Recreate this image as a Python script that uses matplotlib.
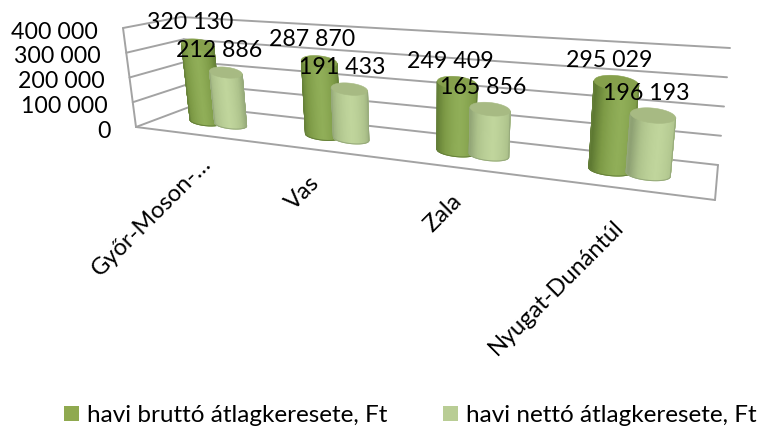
import numpy as np
import matplotlib
matplotlib.use("Agg")
import matplotlib.pyplot as plt
from matplotlib.patches import Patch, Polygon
from matplotlib.colors import LinearSegmentedColormap

categories = ["Győr-Moson-…", "Vas", "Zala", "Nyugat-Dunántúl"]
brutto = [320130, 287870, 249409, 295029]
netto = [212886, 191433, 165856, 196193]
series_names = ["havi bruttó átlagkeresete, Ft", "havi nettó átlagkeresete, Ft"]
y_ticks = [0, 100000, 200000, 300000, 400000]
y_max = 400000

plt.rcParams['font.family'] = ['Lato', 'DejaVu Sans']
W, H = 765, 428
fig = plt.figure(figsize=(W / 100, H / 100), dpi=100)
ax = fig.add_axes([0, 0, 1, 1])
ax.set_xlim(0, W)
ax.set_ylim(H, 0)
ax.axis('off')

# 3D box projected to the screen
FL0, FR0, BL0, BR0 = map(np.array, [(136, 127), (715, 200), (192, 106), (718, 165)])
FL1, FR1, BL1, BR1 = map(np.array, [(123, 28), (729, 70), (181, 17), (730, 48)])
K = 1.32


def project(u, d, v):
    t = u / (u + K * (1 - u))
    h = v / y_max
    floor = (1 - d) * ((1 - t) * FL0 + t * FR0) + d * ((1 - t) * BL0 + t * BR0)
    top = (1 - d) * ((1 - t) * FL1 + t * FR1) + d * ((1 - t) * BL1 + t * BR1)
    return (1 - h) * floor + h * top


GRID = dict(color='#a3a3a3', lw=1.4, solid_capstyle='round', zorder=1)
for tick in y_ticks:
    a, b, c = project(0, 0, tick), project(0, 1, tick), project(1, 1, tick)
    ax.plot([a[0], b[0]], [a[1], b[1]], **GRID)
    ax.plot([b[0], c[0]], [b[1], c[1]], **GRID)
    ax.text(a[0] - 25, a[1] + 4, f"{tick:,}".replace(",", " "), ha='right', va='center',
            fontsize=16.7, color='black', zorder=10)
for p, q in [((0, 0, 0), (1, 0, 0)), ((0, 0, 0), (0, 0, y_max)), ((1, 0, 0), (1, 1, 0))]:
    a, b = project(*p), project(*q)
    ax.plot([a[0], b[0]], [a[1], b[1]], **GRID)

CMAP_A = LinearSegmentedColormap.from_list('a', ['#5f7a33', '#7d9a46', '#90ae58'])
CMAP_B = LinearSegmentedColormap.from_list('b', ['#8fa274', '#aec38c', '#c0d59c'])
TOP_COLORS = ['#86a04c', '#a7ba83']
EDGE_COLORS = ['#66803a', '#96a97b']
R_U = 0.036
SLOPE = 0.10
RY_BOTTOM = 0.27
RY_TOP = 0.33
OFFSET_U = 0.028
LABEL_OFFSETS = [(15, 26), (-1, 30), (-1, 30), (-3, 35)]


def cylinder(u, value, cmap, top_color, edge_color):
    bl, br = project(u - R_U, .5, 0), project(u + R_U, .5, 0)
    tl, tr = project(u - R_U, .5, value), project(u + R_U, .5, value)
    bc, tc = (bl + br) / 2, (tl + tr) / 2
    shrink = 1 - 0.12 * (bc[0] - FL0[0]) / (FR0[0] - FL0[0])
    brw, trw = shrink * (br[0] - bl[0]) / 2, shrink * (tr[0] - tl[0]) / 2
    theta = np.linspace(np.pi, 0, 61)
    cb, sb = np.cos(theta), np.sin(theta)
    bx = bc[0] + brw * cb
    by = bc[1] + brw * RY_BOTTOM * sb + SLOPE * brw * cb
    tx = tc[0] + trw * cb
    ty = tc[1] + trw * RY_TOP * sb + SLOPE * trw * cb
    peak = -0.1 + 0.45 * (bc[0] - FL0[0]) / (FR0[0] - FL0[0])
    shade = np.clip(1 - np.abs(cb - peak) ** 1.6 / 1.3, 0, 1)
    ax.pcolormesh(np.vstack([bx, tx]), np.vstack([by, ty]), np.vstack([shade, shade]),
                  shading='gouraud', cmap=cmap, vmin=0, vmax=1, zorder=3)
    ax.plot(np.r_[tx[0], bx, tx[-1]], np.r_[ty[0], by, ty[-1]], color=edge_color, lw=.7, zorder=3)
    th = np.linspace(0, 2 * np.pi, 80)
    ax.add_patch(Polygon(np.c_[tc[0] + trw * np.cos(th),
                               tc[1] + trw * RY_TOP * np.sin(th) + SLOPE * trw * np.cos(th)],
                         closed=True, fc=top_color, ec=top_color, lw=.4, zorder=3))
    return tc


tops = []
for i, _ in enumerate(categories):
    uc = (i + .5) / len(categories)
    for val, offs, cm, tc, ec in ((brutto[i], -OFFSET_U, CMAP_A, TOP_COLORS[0], EDGE_COLORS[0]),
                                  (netto[i], OFFSET_U, CMAP_B, TOP_COLORS[1], EDGE_COLORS[1])):
        tops.append((cylinder(uc + offs, val, cm, tc, ec), val))
    p = project(uc, 0, 0)
    ax.text(p[0] + LABEL_OFFSETS[i][0], p[1] + LABEL_OFFSETS[i][1], categories[i], rotation=45,
            rotation_mode='anchor', ha='right', va='center', fontsize=17.0, color='black', zorder=10)

for pos, val in tops:
    ax.text(pos[0] - 7, pos[1] - 22, f"{val:,}".replace(",", " "), ha='center', va='center',
            fontsize=16.7, color='black', zorder=11)

handles = [Patch(fc='#8fa94f', ec='none'), Patch(fc='#b9cd95', ec='none')]
ax.legend(handles, series_names, ncol=2, frameon=False, loc='center left',
          bbox_to_anchor=(64, 415.5), bbox_transform=ax.transData, fontsize=17.5,
          handlelength=0.62, handleheight=0.62, handletextpad=0.33, columnspacing=2.3,
          labelcolor='black', borderpad=0, borderaxespad=0)

fig.savefig('out.png', dpi=100)
